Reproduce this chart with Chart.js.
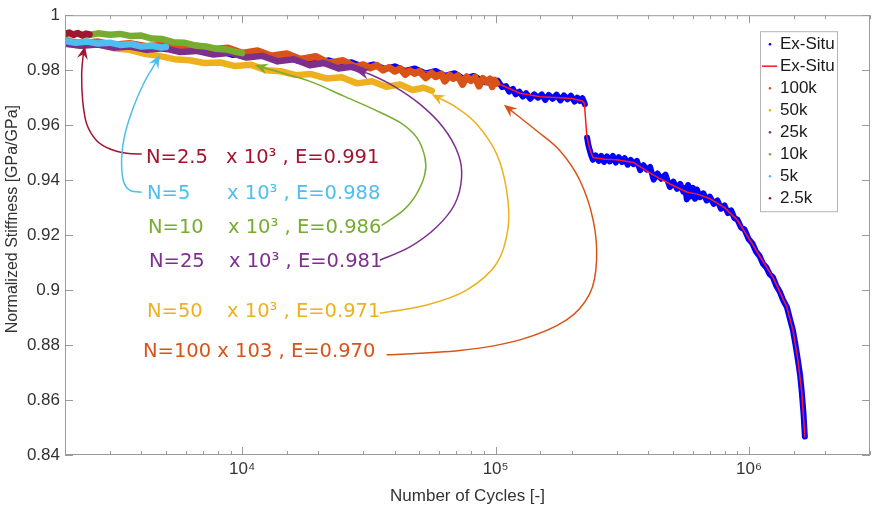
<!DOCTYPE html>
<html>
<head>
<meta charset="utf-8">
<script src="https://cdn.jsdelivr.net/npm/chart.js@4.4.1/dist/chart.umd.min.js"></script>
<style>
  html, body { margin: 0; padding: 0; background: #fff; }
  #wrap { width: 874px; height: 510px; }
</style>
</head>
<body>
<div id="wrap"><canvas id="stiffness"></canvas></div>
<script>
// ── Data ───────────────────────────────────────────────────────────────────
// Ex-Situ measurement (blue, noisy). null = gap where the stiffness drops.
const exSituCycles = [
  2000, 2200, 2400, 2700, 3000, 3300, 3700, 4100, 4500, 5000,
  5500, 6100, 6800, 7500, 8300, 9200, 10000, 11000, 12200, 13500,
  15000, 16500, 18000, 20000, 22000, 24500, 27000, 30000, 33000, 36500,
  40000, 44000, 48000, 53000, 58000, 63000, 69000, 75000, 82000, 90000,
  98000, 102000, 106000, 110000, 113000, 117000, 120000, 124000, 128000, 132000,
  137000, 142000, 147000, 152000, 157000, 162000, 168000, 174000, 180000, 186000,
  192000, 198000, 205000, 210000, 215000, 220000, 225000, 227000,
  229500, 232000, 235000, 238000, 242000, 248000, 255000, 261000, 268000, 275000,
  282000, 290000, 298000, 306000, 315000, 323000, 332000, 341000, 350000, 361000,
  372000, 383000, 395000, 407000, 420000, 435000, 450000, 468000, 487000, 503000,
  520000, 535000, 550000, 560000, 568000, 575000, 585000, 600000, 612000, 622000,
  640000, 660000, 680000, 700000, 725000, 750000, 775000, 800000, 825000, 850000,
  875000, 900000, 930000, 960000, 995000, 1030000, 1065000, 1100000, 1135000, 1170000,
  1205000, 1241000, 1280000, 1320000, 1365000, 1410000, 1450000, 1489000, 1525000, 1558000,
  1590000, 1615000, 1640000, 1660000
];
const exSituStiffness = [
  0.9899, 0.9895, 0.9902, 0.9893, 0.9896, 0.9888, 0.9893, 0.9882, 0.9886, 0.9876,
  0.9881, 0.9869, 0.9874, 0.9862, 0.9868, 0.9855, 0.9861, 0.9850, 0.9856, 0.9842,
  0.9848, 0.9835, 0.9842, 0.9828, 0.9836, 0.9820, 0.9829, 0.9812, 0.9821, 0.9805,
  0.9814, 0.9797, 0.9806, 0.9788, 0.9797, 0.9779, 0.9789, 0.9768, 0.9779, 0.9757,
  0.9752, 0.9762, 0.9738, 0.9742, 0.9722, 0.9732, 0.9712, 0.9722, 0.9704, 0.9716,
  0.9696, 0.9712, 0.9700, 0.9712, 0.9692, 0.9710, 0.9696, 0.9711, 0.9690, 0.9708,
  0.9694, 0.9707, 0.9686, 0.9700, 0.9688, 0.9698, 0.9676, null,
  0.9555, 0.9530, 0.9510, 0.9492, 0.9474, 0.9490, 0.9470, 0.9488, 0.9466, 0.9486,
  0.9468, 0.9488, 0.9464, 0.9484, 0.9466, 0.9480, 0.9456, 0.9474, 0.9458, 0.9470,
  0.9436, 0.9454, 0.9438, 0.9448, 0.9402, 0.9424, 0.9405, 0.9420, 0.9375, 0.9394,
  0.9368, 0.9386, 0.9358, 0.9372, 0.9330, 0.9382, 0.9340, 0.9372, 0.9332, 0.9366,
  0.9338, 0.9352, 0.9326, 0.9340, 0.9314, 0.9326, 0.9296, 0.9308, 0.9280, 0.9290,
  0.9262, 0.9256, 0.9228, 0.9220, 0.9186, 0.9170, 0.9140, 0.9124, 0.9096, 0.9082,
  0.9058, 0.9047, 0.9016, 0.8995, 0.8962, 0.8938, 0.8895, 0.8855, 0.8800, 0.8746,
  0.8690, 0.8627, 0.8550, 0.8467
];

// Ex-Situ smoothed curve (red line)
const exSituFitCycles = [
  2000, 5000, 10000, 20000, 40000, 70000, 100000, 125000, 150000, 180000,
  200000, 220000, 224000, 229000, 235000, 242000, 270000, 300000, 350000, 420000,
  490000, 570000, 620000, 700000, 800000, 900000, 1030000, 1100000, 1241000, 1410000,
  1489000, 1558000, 1615000, 1660000
];
const exSituFitStiffness = [
  0.9897, 0.9879, 0.9858, 0.9832, 0.9810, 0.9781, 0.9755, 0.9716, 0.9703, 0.9700,
  0.9697, 0.9688, 0.9680, 0.9560, 0.9515, 0.9482, 0.9476, 0.9474, 0.9464, 0.9418,
  0.9385, 0.9356, 0.9350, 0.9333, 0.9300, 0.9254, 0.9168, 0.9124, 0.9047, 0.8938,
  0.8855, 0.8746, 0.8627, 0.8467
];

const n100kCycles = [
  2000, 2300, 2700, 3100, 3600, 4200, 4900, 5700, 6600, 7600,
  8800, 10000, 11500, 13000, 15000, 17000, 19500, 22000, 25000, 28000,
  30000, 32000, 34000, 36000, 38000, 40000, 42000, 44000, 46000, 48000,
  50000, 53000, 56000, 58000, 61000, 63000, 66000, 68000, 71000, 74000,
  77000, 80000, 83000, 86000, 89000, 92000, 95000, 97000, 99000, 101000
];
const n100kStiffness = [
  0.9906, 0.9898, 0.9903, 0.9892, 0.9897, 0.9886, 0.9892, 0.9880, 0.9888, 0.9875,
  0.9881, 0.9862, 0.9871, 0.9852, 0.9860, 0.9840, 0.9850, 0.9826, 0.9835, 0.9812,
  0.9820, 0.9808, 0.9818, 0.9800, 0.9810, 0.9796, 0.9806, 0.9784, 0.9798, 0.9788,
  0.9796, 0.9772, 0.9790, 0.9776, 0.9786, 0.9760, 0.9782, 0.9770, 0.9780, 0.9748,
  0.9776, 0.9762, 0.9774, 0.9742, 0.9770, 0.9758, 0.9768, 0.9740, 0.9764, 0.9752
];

const n50kCycles = [
  2000, 2300, 2700, 3100, 3600, 4100, 4700, 5400, 6200, 7100,
  8200, 9400, 10800, 12400, 14200, 16300, 18700, 21500, 24700, 28400,
  32500, 37000, 42000, 47000, 52000, 56000
];
const n50kStiffness = [
  0.9898, 0.9890, 0.9894, 0.9880, 0.9874, 0.9860, 0.9852, 0.9840, 0.9836, 0.9826,
  0.9828, 0.9815, 0.9820, 0.9800, 0.9796, 0.9782, 0.9786, 0.9770, 0.9774, 0.9752,
  0.9760, 0.9740, 0.9748, 0.9728, 0.9736, 0.9725
];

const n25kCycles = [
  2000, 2300, 2700, 3100, 3600, 4200, 4900, 5700, 6600, 7700,
  9000, 10400, 12000, 13800, 16000, 18500, 21000, 24000, 27000, 30000
];
const n25kStiffness = [
  0.9896, 0.9889, 0.9893, 0.9882, 0.9886, 0.9874, 0.9880, 0.9866, 0.9870, 0.9857,
  0.9863, 0.9846, 0.9852, 0.9832, 0.9840, 0.9818, 0.9826, 0.9806, 0.9812, 0.9798
];

const n10kCycles = [
  2000, 2200, 2450, 2700, 3000, 3300, 3650, 4000, 4400, 4850,
  5350, 5900, 6500, 7200, 7900, 8700, 9500, 10000
];
const n10kStiffness = [
  0.9928, 0.9933, 0.9927, 0.9934, 0.9929, 0.9932, 0.9924, 0.9926, 0.9915, 0.9913,
  0.9902, 0.9900, 0.9890, 0.9886, 0.9878, 0.9875, 0.9866, 0.9862
];

const n5kCycles = [2000, 2200, 2450, 2700, 3000, 3300, 3650, 4000, 4400, 4800, 5000];
const n5kStiffness = [0.9906, 0.9900, 0.9904, 0.9897, 0.9900, 0.9892, 0.9895, 0.9886, 0.9889, 0.9882, 0.9884];

const n2_5kCycles = [2000, 2080, 2160, 2250, 2340, 2420, 2500];
const n2_5kStiffness = [0.9932, 0.9937, 0.9928, 0.9935, 0.9926, 0.9933, 0.9930];

// Axis range and labelled ticks
const yTickValues = [0.84, 0.86, 0.88, 0.9, 0.92, 0.94, 0.96, 0.98, 1];
const xMajorLabels = { 10000: "10⁴", 100000: "10⁵", 1000000: "10⁶" };

// Annotation arrows, [cycles, stiffness], from the text to the arrow tip
const arrow2_5k = [[4015, 0.94953], [3503, 0.94975], [3010, 0.95134], [2667, 0.95435], [2436, 0.9604],
  [2349, 0.96884], [2327, 0.97851], [2361, 0.98576], [2399, 0.98877]];
const arrow5k = [[4015, 0.93562], [3609, 0.93623], [3396, 0.93986], [3347, 0.9483], [3449, 0.95678],
  [3720, 0.96641], [4073, 0.97489], [4396, 0.98033], [4740, 0.98551]];
const arrow10k = [[35510, 0.92355], [43210, 0.92899], [48800, 0.93504], [52610, 0.94228], [52610, 0.9483],
  [48800, 0.95554], [41930, 0.96098], [32910, 0.96583], [25050, 0.97065], [19080, 0.97547],
  [14980, 0.97851], [12110, 0.98091], [11230, 0.98188]];
const arrow25k = [[34960, 0.91087], [45920, 0.91569], [58530, 0.92293], [69100, 0.93141], [73430, 0.94105],
  [71200, 0.94953], [62140, 0.95917], [50280, 0.96764], [39460, 0.97428], [31930, 0.97851], [28110, 0.97971]];
const arrow50k = [[34960, 0.89156], [53430, 0.89457], [76840, 0.9], [100900, 0.90967], [112100, 0.92293],
  [110500, 0.93623], [100900, 0.94953], [84180, 0.9604], [70190, 0.96641], [55910, 0.97127]];
const arrow100k = [[37150, 0.87645], [72300, 0.878], [124700, 0.88188], [190600, 0.88913], [235500, 0.8988],
  [250200, 0.91087], [242700, 0.92536], [215100, 0.93986], [179400, 0.95072], [145100, 0.95797], [107800, 0.96739]];

// ── Colors ─────────────────────────────────────────────────────────────────
const COLORS = {
  blue:   "#0000ff",
  red:    "#ff1a1a",
  orange: "#d95319",
  yellow: "#edb120",
  purple: "#7e2f8e",
  green:  "#77ac30",
  cyan:   "#4dbeee",
  wine:   "#a2142f",
};
const AXIS_COLOR = "#9a9a9a";
const TEXT_COLOR = "#333333";
const AXIS_FONT = "'Liberation Sans', Arial, sans-serif";

// Text labels next to the arrows: [cycles, stiffness] of the text's left middle
const notes = [
  { head: "N=2.5", tail: "x 10³ , E=0.991", at: [4174, 0.94819], color: COLORS.wine,   arrow: arrow2_5k },
  { head: "N=5",   tail: "x 10³ , E=0.988", at: [4212, 0.93514], color: COLORS.cyan,   arrow: arrow5k },
  { head: "N=10",  tail: "x 10³ , E=0.986", at: [4250, 0.92246], color: COLORS.green,  arrow: arrow10k },
  { head: "N=25",  tail: "x 10³ , E=0.981", at: [4289, 0.91014], color: COLORS.purple, arrow: arrow25k },
  { head: "N=50",  tail: "x 10³ , E=0.971", at: [4212, 0.89203], color: COLORS.yellow, arrow: arrow50k },
  { head: "N=100 x 103 , E=0.970", tail: "", at: [4062, 0.87754], color: COLORS.orange, arrow: arrow100k },
];

function toPoints(xs, ys) {
  return xs.map((x, i) => ({ x, y: ys[i] }));
}

function series(label, xs, ys, color, width, order, mark) {
  return {
    label,
    data: toPoints(xs, ys),
    borderColor: color,
    backgroundColor: color,
    borderWidth: width,
    borderJoinStyle: "round",
    borderCapStyle: "round",
    pointRadius: 0,
    tension: 0,
    spanGaps: false,
    order,
    legendMark: mark,
  };
}

// ── Drawing helpers ────────────────────────────────────────────────────────
function drawArrow(ctx, pts, color) {
  const n = pts.length;
  const tip = pts[n - 1], prev = pts[n - 2];
  const ang = Math.atan2(tip.y - prev.y, tip.x - prev.x);
  const c = Math.cos(ang), s = Math.sin(ang);
  const headLen = 13, headW = 5.5;
  const base = { x: tip.x - c * headLen * 0.6, y: tip.y - s * headLen * 0.6 };
  const p = pts.slice(0, n - 1).concat([base]);

  ctx.save();
  ctx.strokeStyle = color;
  ctx.fillStyle = color;
  ctx.lineWidth = 1.5;
  ctx.beginPath();
  ctx.moveTo(p[0].x, p[0].y);
  for (let i = 0; i < p.length - 1; i++) {
    const p0 = p[Math.max(i - 1, 0)], p1 = p[i], p2 = p[i + 1], p3 = p[Math.min(i + 2, p.length - 1)];
    ctx.bezierCurveTo(
      p1.x + (p2.x - p0.x) / 6, p1.y + (p2.y - p0.y) / 6,
      p2.x - (p3.x - p1.x) / 6, p2.y - (p3.y - p1.y) / 6,
      p2.x, p2.y
    );
  }
  ctx.stroke();

  ctx.beginPath();
  ctx.moveTo(tip.x, tip.y);
  ctx.lineTo(tip.x - c * headLen - s * headW, tip.y - s * headLen + c * headW);
  ctx.lineTo(tip.x - c * headLen * 0.65, tip.y - s * headLen * 0.65);
  ctx.lineTo(tip.x - c * headLen + s * headW, tip.y - s * headLen - c * headW);
  ctx.closePath();
  ctx.fill();
  ctx.restore();
}

const decorPlugin = {
  id: "decor",
  afterDraw(chart) {
    const { ctx, chartArea: a, scales } = chart;
    const xs = scales.x, ys = scales.y;

    // axes box and inward ticks (MATLAB style)
    ctx.save();
    ctx.strokeStyle = AXIS_COLOR;
    ctx.lineWidth = 1;
    ctx.strokeRect(a.left + 0.5, a.top + 0.5, a.right - a.left - 1, a.bottom - a.top - 1);
    ctx.beginPath();
    xs.ticks.forEach(t => {
      const lg = Math.log10(t.value);
      const major = Math.abs(lg - Math.round(lg)) < 1e-6;
      const len = major ? 8 : 4;
      const px = Math.round(xs.getPixelForValue(t.value)) + 0.5;
      ctx.moveTo(px, a.bottom); ctx.lineTo(px, a.bottom - len);
      ctx.moveTo(px, a.top); ctx.lineTo(px, a.top + len);
    });
    ys.ticks.forEach(t => {
      const py = Math.round(ys.getPixelForValue(t.value)) + 0.5;
      ctx.moveTo(a.left, py); ctx.lineTo(a.left + 8, py);
      ctx.moveTo(a.right, py); ctx.lineTo(a.right - 8, py);
    });
    ctx.stroke();

    // y axis title, sitting a little above the axis centre as in the figure
    ctx.translate(13, (a.top + a.bottom) / 2 - 16);
    ctx.rotate(-Math.PI / 2);
    ctx.fillStyle = TEXT_COLOR;
    ctx.font = "16px " + AXIS_FONT;
    ctx.textAlign = "center";
    ctx.textBaseline = "middle";
    ctx.fillText("Normalized Stiffness [GPa/GPa]", 0, 0);
    ctx.restore();

    // arrows and labels
    notes.forEach(nt => {
      const pts = nt.arrow.map(([cx, sy]) => ({ x: xs.getPixelForValue(cx), y: ys.getPixelForValue(sy) }));
      drawArrow(ctx, pts, nt.color);
      const tx = xs.getPixelForValue(nt.at[0]);
      const ty = ys.getPixelForValue(nt.at[1]);
      ctx.save();
      ctx.fillStyle = nt.color;
      ctx.font = "19.5px 'DejaVu Sans', Verdana, sans-serif";
      ctx.textBaseline = "middle";
      ctx.fillText(nt.head, tx, ty);
      if (nt.tail) ctx.fillText(nt.tail, tx + 80, ty);
      ctx.restore();
    });

    // legend box (inside the axes, top right)
    const boxW = 77, boxH = 180, rowH = 22;
    const bx = a.right - 33 - boxW, by = a.top + 16;
    ctx.save();
    ctx.fillStyle = "#ffffff";
    ctx.fillRect(bx, by, boxW, boxH);
    ctx.strokeStyle = "#b4b4b4";
    ctx.lineWidth = 1;
    ctx.strokeRect(bx + 0.5, by + 0.5, boxW, boxH);
    ctx.font = "17px " + AXIS_FONT;
    ctx.textBaseline = "middle";
    chart.data.datasets.forEach((ds, i) => {
      const cy = by + 13 + i * rowH;
      if (ds.legendMark === "line") {
        ctx.strokeStyle = ds.borderColor;
        ctx.lineWidth = 1.5;
        ctx.beginPath();
        ctx.moveTo(bx + 2, cy); ctx.lineTo(bx + 17, cy);
        ctx.stroke();
      } else {
        ctx.fillStyle = ds.borderColor;
        ctx.beginPath();
        ctx.arc(bx + 10, cy, 1.3, 0, Math.PI * 2);
        ctx.fill();
      }
      ctx.fillStyle = "#1a1a1a";
      ctx.fillText(ds.label, bx + 20, cy);
    });
    ctx.restore();
  },
};

// ── Chart ──────────────────────────────────────────────────────────────────
new Chart(document.getElementById("stiffness"), {
  type: "line",
  data: {
    datasets: [
      series("Ex-Situ", exSituCycles, exSituStiffness, COLORS.blue, 6, 7, "dot"),
      series("Ex-Situ", exSituFitCycles, exSituFitStiffness, COLORS.red, 1.5, 6, "line"),
      series("100k", n100kCycles, n100kStiffness, COLORS.orange, 7, 5, "dot"),
      series("50k", n50kCycles, n50kStiffness, COLORS.yellow, 6.5, 4, "dot"),
      series("25k", n25kCycles, n25kStiffness, COLORS.purple, 6.5, 3, "dot"),
      series("10k", n10kCycles, n10kStiffness, COLORS.green, 6.5, 2, "dot"),
      series("5k", n5kCycles, n5kStiffness, COLORS.cyan, 6.5, 1, "dot"),
      series("2.5k", n2_5kCycles, n2_5kStiffness, COLORS.wine, 6.5, 0, "dot"),
    ],
  },
  options: {
    responsive: true,
    maintainAspectRatio: false,
    animation: false,
    events: [],
    layout: { padding: { top: 14, right: 4, left: 0, bottom: 0 } },
    plugins: {
      legend: { display: false },
      tooltip: { enabled: false },
    },
    scales: {
      x: {
        type: "logarithmic",
        min: 2000,
        max: 3000000,
        grid: { display: false, drawTicks: false },
        border: { display: false },
        ticks: {
          autoSkip: false,
          maxRotation: 0,
          padding: 4,
          color: TEXT_COLOR,
          font: { family: AXIS_FONT, size: 17 },
          callback: v => xMajorLabels[Math.round(v)] || "",
        },
        title: {
          display: true,
          text: "Number of Cycles [-]",
          color: TEXT_COLOR,
          font: { family: AXIS_FONT, size: 17 },
          padding: { top: 0, bottom: 3 },
        },
        afterFit: s => { s.height = 55; },
      },
      y: {
        type: "linear",
        min: 0.84,
        max: 1,
        grid: { display: false, drawTicks: false },
        border: { display: false },
        afterBuildTicks: s => { s.ticks = yTickValues.map(v => ({ value: v })); },
        ticks: {
          padding: 5,
          color: TEXT_COLOR,
          font: { family: AXIS_FONT, size: 17 },
          callback: v => String(Number(v.toFixed(2))),
        },
        title: { display: false },
        afterFit: s => { s.width = 65; },
      },
    },
  },
  plugins: [decorPlugin],
});
</script>
</body>
</html>
